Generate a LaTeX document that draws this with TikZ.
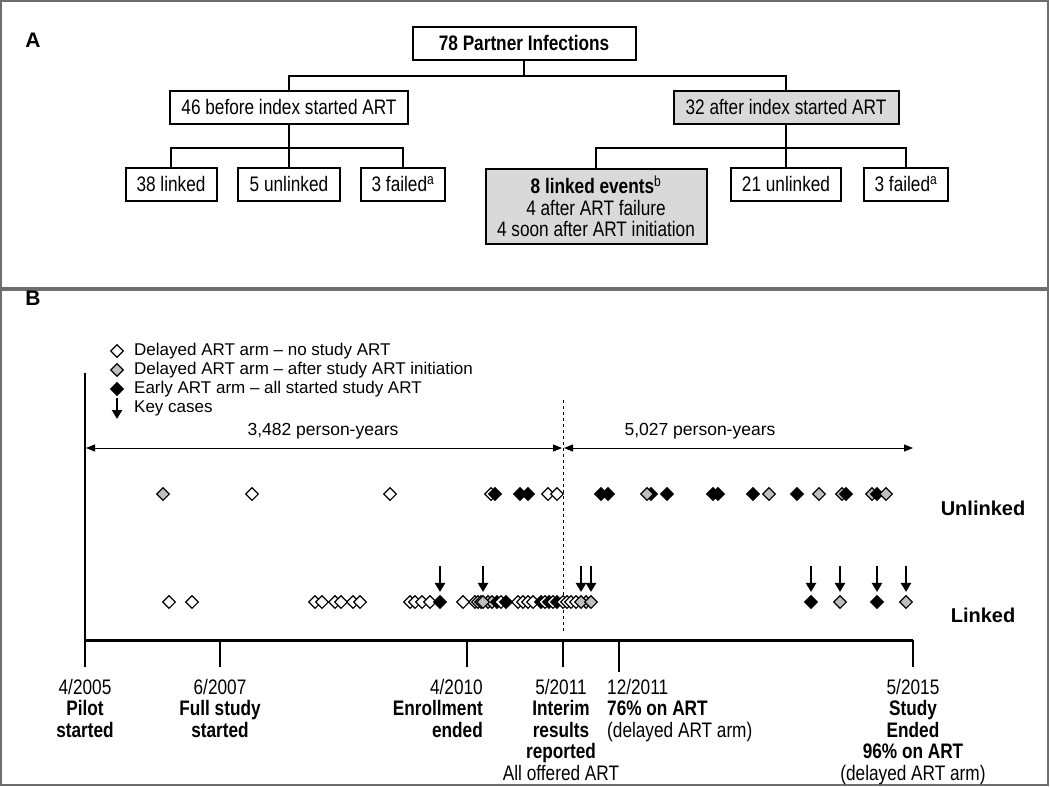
\documentclass[tikz,border=0pt]{standalone}
\usepackage{fontspec}
\setmainfont{Liberation Sans}
\newfontfamily\narrowfont[FakeStretch=0.82]{Liberation Sans}
\usetikzlibrary{shapes.geometric,arrows.meta}
\definecolor{boxgray}{RGB}{217,217,217}
\definecolor{dgray}{RGB}{190,190,190}
\definecolor{framegray}{RGB}{110,110,110}

\begin{document}
\begin{tikzpicture}[x=1pt,y=-1pt,
  infbox/.style={draw, line width=2pt, inner sep=2pt, minimum height=33pt, font=\narrowfont\fontsize{21}{21.5}\selectfont},
  dmd/.style={diamond, draw, line width=1.1pt, inner sep=0pt, minimum width=13pt, minimum height=13pt},
  dwht/.style={dmd, fill=white},
  dgry/.style={dmd, fill=dgray},
  dblk/.style={dmd, fill=black},
  keyarr/.style={line width=2.5pt, -{Triangle[length=9pt,width=10pt]}},
  yrarr/.style={line width=0.9pt, {Triangle[length=9pt,width=7pt]}-{Triangle[length=9pt,width=7pt]}},
  axlbl/.style={font=\narrowfont\fontsize{21}{21.5}\selectfont, inner sep=0pt, align=center, anchor=north},
  legtxt/.style={font=\fontsize{17}{19}\selectfont, inner sep=0pt, anchor=west},
  ]
\useasboundingbox (0,0) rectangle (1050,787);

% frames of the two panels
\draw[framegray, line width=1.2pt] (1,1) rectangle (1048,288);
\draw[framegray, line width=1.2pt] (1,290) rectangle (1048,785);

% panel A
\node[font=\bfseries\fontsize{21}{21}\selectfont] (pa) at (33,40) {A};
\node[infbox, minimum width=223pt] (top) at (524,43) {\textbf{78 Partner Infections}};
\node[infbox, minimum width=238pt] (bef) at (289,107) {46 before index started ART};
\node[infbox, minimum width=225pt, fill=boxgray] (aft) at (786,107) {32 after index started ART};
\node[infbox, minimum width=91pt] (bl) at (171,184) {38 linked};
\node[infbox, minimum width=102pt] (bu) at (289,184) {5 unlinked};
\node[infbox, minimum width=84pt] (bf) at (403,184) {3 failed\textsuperscript{a}};
\node[infbox, minimum width=221pt, minimum height=75pt, fill=boxgray, align=center, anchor=north] (al) at (596,168)
  {\textbf{8 linked events}\textsuperscript{b}\\4 after ART failure\\4 soon after ART initiation};
\node[infbox, minimum width=110pt] (au) at (786,184) {21 unlinked};
\node[infbox, minimum width=84pt] (af) at (906,184) {3 failed\textsuperscript{a}};

\draw[line width=2pt] (top.south) -- ++(0,15) -| (bef.north);
\draw[line width=2pt] (top.south) ++(0,15) -| (aft.north);
\draw[line width=2pt] (bef.south) -- ++(0,23) -| (bl.north);
\draw[line width=2pt] (bef.south) -- (bu.north);
\draw[line width=2pt] (bef.south) ++(0,23) -| (bf.north);
\draw[line width=2pt] (aft.south) -- ++(0,23) -| (al.north);
\draw[line width=2pt] (aft.south) -- (au.north);
\draw[line width=2pt] (aft.south) ++(0,23) -| (af.north);

% panel B: legend
\node[font=\bfseries\fontsize{21}{21}\selectfont] (pb) at (33,298) {B};
\node[dwht] (lg1) at (117,351) {};
\node[dgry] (lg2) at (117,370) {};
\node[dblk] (lg3) at (117,389) {};
\coordinate (lg4) at (117,419);
\draw[keyarr] (lg4) ++(0,-21) -- (lg4);
\node[legtxt] (lt1) at (134,351) {Delayed ART arm – no study ART};
\node[legtxt] (lt2) at (134,370) {Delayed ART arm – after study ART initiation};
\node[legtxt] (lt3) at (134,389) {Early ART arm – all started study ART};
\node[legtxt] (lt4) at (134,408) {Key cases};

% time axis
\draw[line width=2.2pt] (85,373) -- (85,667);
\draw[line width=3pt] (85,640) -- (913,640);
\foreach \x in {220,467,563,913}
  \draw[line width=2pt] (\x,640) -- (\x,667);
\draw[line width=2pt] (619,640) -- (619,672);
\draw[dashed, line width=0.9pt] (563,400) -- (563,633);

% person-years
\coordinate (p0) at (85,448);
\coordinate (p1) at (563,448);
\coordinate (p2) at (913,448);
\draw[yrarr, shorten <=1pt, shorten >=1pt] (p0) -- (p1);
\draw[yrarr, shorten <=1pt] (p1) -- (p2);
\node[font=\fontsize{17.5}{19}\selectfont] (py1) at (323,431) {3,482 person-years};
\node[font=\fontsize{17.5}{19}\selectfont] (py2) at (700,431) {5,027 person-years};

\node[font=\bfseries\fontsize{20}{22}\selectfont] (unl) at (983,508) {Unlinked};
\node[font=\bfseries\fontsize{20}{22}\selectfont] (lnk) at (983,615) {Linked};

% unlinked infections
\foreach \x/\s [count=\i] in {163/dgry,252/dwht,390/dwht,491/dwht,495/dblk,520/dblk,528/dblk,548/dwht,557/dwht,
  601/dblk,608/dblk,651/dblk,647/dgry,667/dblk,713/dblk,718/dblk,753/dblk,769/dgry,797/dblk,819/dgry,
  842/dgry,846/dblk,872/dgry,877/dblk,886/dgry}
  \node[\s] (u\i) at (\x,494) {};

% linked infections
\foreach \x/\s [count=\i] in {169/dwht,192/dwht,315/dwht,322/dwht,335/dwht,341/dwht,353/dwht,360/dwht,
  410/dwht,415/dwht,422/dwht,430/dwht,463/dwht,475/dwht,478/dwht,481/dwht,488/dgry,492/dgry,497/dblk,
  501/dwht,506/dblk,518/dwht,523/dwht,528/dwht,533/dwht,541/dblk,545/dwht,549/dblk,553/dwht,557/dblk,
  563/dwht,567/dwht,571/dwht,576/dwht,586/dgry}
  \node[\s] (l\i) at (\x,602) {};

% key cases
\foreach \x/\s [count=\i] in {440/dblk,483/dgry,581/dgry,591/dgry,811/dblk,840/dgry,877/dblk,906/dgry}{
  \node[\s] (k\i) at (\x,602) {};
  \draw[keyarr] (k\i) ++(0,-36) -- ([yshift=3pt]k\i.north);
}

% dates
\node[axlbl] (d1) at (85,679) {4/2005\\\textbf{Pilot}\\\textbf{started}};
\node[axlbl] (d2) at (220,679) {6/2007\\\textbf{Full study}\\\textbf{started}};
\node[axlbl, align=right, anchor=north east] (d3) at (483,679) {4/2010\\\textbf{Enrollment}\\\textbf{ended}};
\node[axlbl] (d4) at (561,679) {5/2011\\\textbf{Interim}\\\textbf{results}\\\textbf{reported}\\All offered ART};
\node[axlbl, align=left, anchor=north west] (d5) at (607,679) {12/2011\\\textbf{76\% on ART}\\(delayed ART arm)};
\node[axlbl] (d6) at (913,679) {5/2015\\\textbf{Study}\\\textbf{Ended}\\\textbf{96\% on ART}\\(delayed ART arm)};
\end{tikzpicture}
\end{document}
